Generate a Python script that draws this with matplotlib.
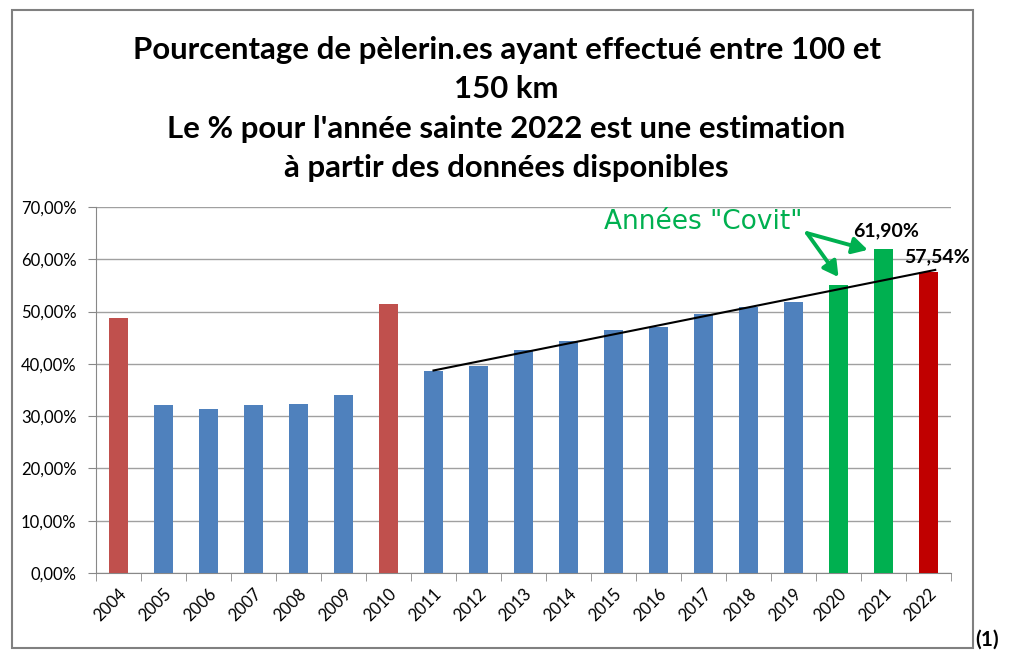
import matplotlib
matplotlib.use("Agg")
import matplotlib.pyplot as plt
import numpy as np
from matplotlib.patches import Rectangle

years = [str(y) for y in range(2004, 2023)]
values = [48.8, 32.1, 31.3, 32.1, 32.3, 34.0, 51.5, 38.6, 39.5, 42.6, 44.4,
          46.4, 47.0, 49.5, 50.8, 51.9, 55.0, 61.9, 57.54]
colors = ["#C0504D", "#4F81BD", "#4F81BD", "#4F81BD", "#4F81BD", "#4F81BD",
          "#C0504D", "#4F81BD", "#4F81BD", "#4F81BD", "#4F81BD", "#4F81BD",
          "#4F81BD", "#4F81BD", "#4F81BD", "#4F81BD", "#00B050", "#00B050",
          "#C00000"]
yticks = [0, 10, 20, 30, 40, 50, 60, 70]
ytick_labels = ["0,00%", "10,00%", "20,00%", "30,00%", "40,00%", "50,00%",
                "60,00%", "70,00%"]
title = ("Pourcentage de pèlerin.es ayant effectué entre 100 et\n150 km\n"
         "Le % pour l'année sainte 2022 est une estimation\n"
         "à partir des données disponibles")

FONT = ["Lato", "DejaVu Sans"]
plt.rcParams["font.family"] = FONT

fig = plt.figure(figsize=(10.13, 6.56), dpi=100)
fig.patch.set_facecolor("white")
# outer frame
fig.patches.append(Rectangle((12 / 1013, 1 - 648 / 656), (973 - 12) / 1013,
                             (648 - 10) / 656, transform=fig.transFigure,
                             fill=False, edgecolor="#808080", lw=1.5))

ax = fig.add_axes([96 / 1013, 1 - 573 / 656, (951 - 96) / 1013, (573 - 207) / 656])
x = np.arange(len(years))
ax.bar(x, values, width=0.42, color=colors, zorder=3)

# trend line fitted on 2011-2019, extended to 2022
idx_fit = np.arange(7, 16)
coef = np.polyfit(idx_fit, np.array(values)[7:16], 1)
xt = np.array([7, 18.15])
ax.plot(xt, np.polyval(coef, xt), color="black", lw=1.5, zorder=4)

ax.set_xlim(-0.5, len(years) - 0.5)
ax.set_ylim(0, 70)
ax.set_yticks(yticks)
ax.set_yticklabels(ytick_labels, fontsize=12)
ax.set_xticks(x)
ax.set_xticklabels(years, rotation=45, ha="right", rotation_mode="anchor",
                   fontsize=12)
ax.set_xticks(np.arange(-0.5, len(years)), minor=True)
ax.tick_params(axis="x", which="major", length=0, pad=9)
ax.tick_params(axis="x", which="minor", length=6, color="#888888")
ax.tick_params(axis="y", length=6, color="#888888", pad=8)
ax.grid(axis="y", color="#a0a0a0", lw=1, zorder=0)
for s in ["top", "right"]:
    ax.spines[s].set_visible(False)
for s in ["left", "bottom"]:
    ax.spines[s].set_color("#888888")

fig.text(0.5, 1 - 109 / 656, title, ha="center", va="center", fontsize=22.4,
         fontweight="bold", linespacing=1.5)

ax.annotate("61,90%", (17.05, values[17]), xytext=(0, 7),
            textcoords="offset points", ha="center", va="bottom",
            fontsize=14, fontweight="bold")
ax.annotate("57,54%", (18.2, values[18]), xytext=(0, 5),
            textcoords="offset points", ha="center", va="bottom",
            fontsize=14, fontweight="bold")

ax.text(13.0, 67.1, 'Années "Covit"', color="#00B050", fontsize=19,
        ha="center", va="center", family=["DejaVu Sans"])
arrow = dict(arrowstyle="-|>,head_width=0.5,head_length=0.9", color="#00B050",
             lw=2.8, shrinkA=0, shrinkB=0)
ax.annotate("", xy=(16.0, 56.6), xytext=(15.3, 65.0), arrowprops=arrow)
ax.annotate("", xy=(16.65, 61.8), xytext=(15.3, 65.0), arrowprops=arrow)

fig.text(975 / 1013, 1 - 640 / 656, "(1)", fontsize=15, fontweight="bold",
         ha="left", va="center")

fig.savefig("out.png", dpi=100)
